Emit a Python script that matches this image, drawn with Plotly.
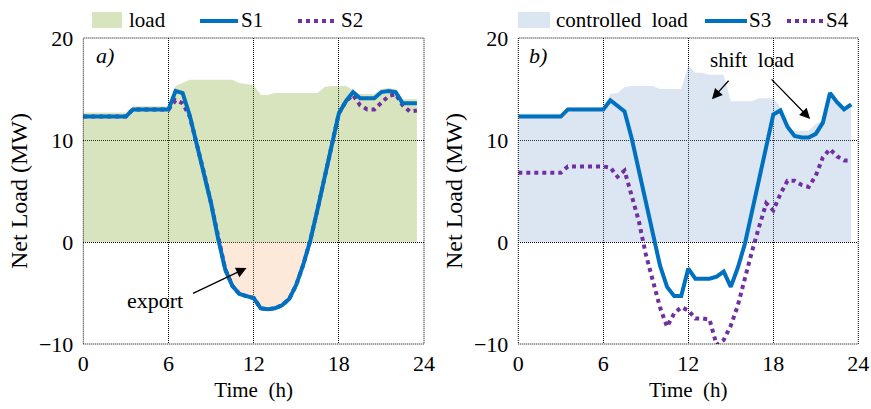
import numpy as np
import plotly.graph_objects as go

# ---------------- data ----------------
time_h = [0, 0.5, 1, 1.5, 2, 2.5, 3, 3.5, 4, 4.5, 5, 5.5, 6, 6.5, 7, 7.5,
          8, 8.5, 9, 9.5, 10, 10.5, 11, 11.5, 12, 12.5, 13, 13.5, 14, 14.5, 15, 15.5,
          16, 16.5, 17, 17.5, 18, 18.5, 19, 19.5, 20, 20.5, 21, 21.5, 22, 22.5, 23, 23.5]

load = [12.7, 12.7, 12.7, 12.7, 12.7, 12.7, 12.7, 13.3, 13.3, 13.3, 13.3, 13.3, 13.3, 15.3, 15.6, 15.9,
        15.9, 15.9, 15.9, 15.9, 15.9, 15.9, 15.6, 15.5, 15.4, 14.4, 14.4, 14.6, 14.6, 14.6, 14.6, 14.6,
        14.6, 14.6, 15.2, 15.3, 15.3, 15.3, 14.9, 14.5, 14.5, 14.5, 15.0, 15.1, 15.0, 14.0, 14.0, 14.0]

s1 = [12.3, 12.3, 12.3, 12.3, 12.3, 12.3, 12.3, 13.0, 13.0, 13.0, 13.0, 13.0, 13.0, 14.8, 14.6, 12.4,
      9.6, 6.8, 3.8, 0.3, -2.7, -4.3, -5.1, -5.3, -5.5, -6.5, -6.6, -6.5, -6.2, -5.6, -4.2, -2.2,
      0.2, 3.2, 6.2, 9.3, 12.6, 13.8, 14.7, 14.1, 14.1, 14.1, 14.7, 14.8, 14.7, 13.6, 13.6, 13.6]

s2 = [12.3, 12.3, 12.3, 12.3, 12.3, 12.3, 12.3, 13.0, 13.0, 13.0, 13.0, 13.0, 13.0, 13.9, 13.6, 12.3,
      9.6, 6.8, 3.8, 0.3, -2.7, -4.3, -5.1, -5.3, -5.5, -6.5, -6.6, -6.5, -6.2, -5.6, -4.2, -2.2,
      0.2, 3.2, 6.2, 9.3, 12.6, 13.8, 14.4, 13.4, 13.0, 13.0, 13.7, 14.3, 14.5, 13.4, 12.8, 12.9]

controlled_load = [12.6, 12.6, 12.6, 12.6, 12.6, 12.6, 12.6, 13.2, 13.2, 13.2, 13.2, 13.2, 13.2, 14.5, 14.6, 15.2,
                   15.3, 15.3, 15.3, 15.3, 15.0, 15.0, 15.0, 15.0, 17.3, 16.6, 16.6, 16.4, 16.4, 16.4, 13.8, 13.8,
                   13.8, 13.8, 14.1, 14.1, 14.1, 13.2, 11.2, 10.9, 10.9, 10.9, 11.6, 11.9, 14.6, 13.7, 13.0, 13.5]

s3 = [12.3, 12.3, 12.3, 12.3, 12.3, 12.3, 12.3, 13.0, 13.0, 13.0, 13.0, 13.0, 13.0, 13.9, 13.4, 12.8,
      10.2, 7.0, 3.8, 0.8, -2.3, -4.4, -5.3, -5.3, -2.6, -3.6, -3.6, -3.6, -3.4, -2.9, -4.4, -2.5,
      -0.15, 3.1, 6.3, 9.3, 12.5, 12.9, 11.3, 10.4, 10.25, 10.25, 10.6, 11.7, 14.6, 13.7, 13.0, 13.5]

s4 = [6.8, 6.8, 6.8, 6.8, 6.8, 6.8, 6.8, 7.4, 7.4, 7.4, 7.4, 7.4, 7.4, 7.3, 6.4, 7.0,
      4.6, 2.1, -1.2, -4.0, -6.4, -8.3, -7.0, -6.4, -6.7, -7.5, -7.5, -7.6, -10.1, -9.6, -8.2, -6.2,
      -3.4, -0.9, 1.5, 3.8, 3.1, 4.7, 6.0, 6.0, 5.6, 5.4, 6.5, 8.3, 9.1, 8.4, 8.0, 8.0]

x_ticks = [0, 6, 12, 18, 24]
y_ticks = [-10, 0, 10, 20]

# ---------------- styling ----------------
W, H = 871, 409
FONT = "Liberation Serif"
BLUE = "#0070c0"
PURPLE = "#7030a0"
GREEN_SOLID = "#d7e4bd"
PEACH_SOLID = "#fde9d9"
LBLUE_SOLID = "#dce6f2"
# translucent versions (same look over white, let the dotted grid show through)
GREEN_FILL = "rgba(122,165,35,0.3)"
PEACH_FILL = "rgba(248,182,128,0.3)"
LBLUE_FILL = "rgba(138,172,212,0.3)"


def px(xp):
    return xp / W


def py(yp):
    return 1 - yp / H


fig = go.Figure()

# left panel
fig.add_trace(go.Scatter(x=time_h, y=load, fill="tozeroy", mode="lines", line=dict(width=0),
                         fillcolor=GREEN_FILL, name="load", xaxis="x", yaxis="y", showlegend=False))
fig.add_trace(go.Scatter(x=time_h, y=np.minimum(np.array(s1), 0), fill="tozeroy", mode="lines",
                         line=dict(width=0), fillcolor=PEACH_FILL, name="export", xaxis="x", yaxis="y",
                         showlegend=False))
fig.add_trace(go.Scatter(x=time_h, y=s2, mode="lines", line=dict(color=PURPLE, width=4, dash="dot"),
                         name="S2", xaxis="x", yaxis="y", showlegend=False))
fig.add_trace(go.Scatter(x=time_h, y=s1, mode="lines", line=dict(color=BLUE, width=4),
                         name="S1", xaxis="x", yaxis="y", showlegend=False))

# right panel
fig.add_trace(go.Scatter(x=time_h, y=controlled_load, fill="tozeroy", mode="lines", line=dict(width=0),
                         fillcolor=LBLUE_FILL, name="controlled load", xaxis="x2", yaxis="y2",
                         showlegend=False))
fig.add_trace(go.Scatter(x=time_h, y=s4, mode="lines", line=dict(color=PURPLE, width=4, dash="dot"),
                         name="S4", xaxis="x2", yaxis="y2", showlegend=False))
fig.add_trace(go.Scatter(x=time_h, y=s3, mode="lines", line=dict(color=BLUE, width=4),
                         name="S3", xaxis="x2", yaxis="y2", showlegend=False))

ydom = [py(344), py(38)]
common_x = dict(range=[0, 24], tickvals=x_ticks, showgrid=True, gridcolor="black", gridwidth=1,
                griddash="1px,1px", zeroline=False, showline=False, ticks="",
                ticklabelstandoff=4, tickfont=dict(family=FONT, size=22, color="black"),
                title=dict(text="Time \u00a0(h)", font=dict(family=FONT, size=21, color="black"), standoff=7),
                fixedrange=True)
common_y = dict(range=[-10, 20], tickvals=y_ticks, showgrid=True, gridcolor="black", gridwidth=1,
                griddash="1px,1px", zeroline=False, showline=False, ticks="",
                ticklabelstandoff=9, tickfont=dict(family=FONT, size=22, color="black"),
                title=dict(text="Net Load (MW)", font=dict(family=FONT, size=24, color="black"), standoff=4),
                domain=ydom, fixedrange=True)

fig.update_layout(
    width=W, height=H,
    margin=dict(l=0, r=0, t=0, b=0, autoexpand=False),
    paper_bgcolor="white", plot_bgcolor="white",
    font=dict(family=FONT, color="black"),
    showlegend=False,
    hovermode=False,
    xaxis=dict(domain=[px(83.3), px(424)], anchor="y", automargin=False, **common_x),
    yaxis=dict(anchor="x", automargin=False, **common_y),
    xaxis2=dict(domain=[px(518.3), px(858.3)], anchor="y2", automargin=False, **common_x),
    yaxis2=dict(anchor="x2", automargin=False, **common_y),
)

shapes = []
# dotted frames
for xr, yr in (("x domain", "y domain"), ("x2 domain", "y2 domain")):
    shapes.append(dict(type="rect", xref=xr, yref=yr, x0=0, x1=1, y0=0, y1=1,
                       line=dict(color="black", width=1, dash="1px,1px"), layer="above"))

# legend keys
ly = 20
shapes += [
    dict(type="rect", xref="paper", yref="paper", x0=px(92), x1=px(122), y0=py(28), y1=py(12),
         fillcolor=GREEN_SOLID, line=dict(width=0)),
    dict(type="line", xref="paper", yref="paper", x0=px(200), x1=px(238), y0=py(ly + 1), y1=py(ly + 1),
         line=dict(color=BLUE, width=4)),
    dict(type="line", xref="paper", yref="paper", x0=px(298), x1=px(337), y0=py(ly + 1), y1=py(ly + 1),
         line=dict(color=PURPLE, width=4, dash="dot")),
    dict(type="rect", xref="paper", yref="paper", x0=px(518), x1=px(550), y0=py(28), y1=py(12),
         fillcolor=LBLUE_SOLID, line=dict(width=0)),
    dict(type="line", xref="paper", yref="paper", x0=px(705), x1=px(747), y0=py(ly + 1), y1=py(ly + 1),
         line=dict(color=BLUE, width=4)),
    dict(type="line", xref="paper", yref="paper", x0=px(787), x1=px(823), y0=py(ly + 1), y1=py(ly + 1),
         line=dict(color=PURPLE, width=4, dash="dot")),
]
fig.update_layout(shapes=shapes)

lf = dict(family=FONT, size=21, color="black")
ann = []
for xp, txt in ((127, "load"), (239, "S1"), (339, "S2"), (554, "controlled \u00a0load"), (747, "S3"), (824, "S4")):
    ann.append(dict(xref="paper", yref="paper", x=px(xp), y=py(ly), text=txt, showarrow=False,
                    xanchor="left", yanchor="middle", font=lf))

# panel labels
ann.append(dict(xref="paper", yref="paper", x=px(94), y=py(55), text="<i>a)</i>", showarrow=False,
                xanchor="left", yanchor="middle", font=dict(family=FONT, size=22, color="black")))
ann.append(dict(xref="paper", yref="paper", x=px(527), y=py(55), text="<i>b)</i>", showarrow=False,
                xanchor="left", yanchor="middle", font=dict(family=FONT, size=22, color="black")))

# export text and arrow
ann.append(dict(xref="paper", yref="paper", x=px(155), y=py(300), text="export", showarrow=False,
                xanchor="center", yanchor="middle", font=dict(family=FONT, size=22, color="black")))
ann.append(dict(xref="x", yref="y", x=11.5, y=-2.55, ax=-55, ay=26, text="", showarrow=True,
                arrowhead=2, arrowsize=1.6, arrowwidth=1.3, arrowcolor="black", standoff=0))

# shift load text and arrows
ann.append(dict(xref="paper", yref="paper", x=px(752), y=py(60), text="shift \u00a0load", showarrow=False,
                xanchor="center", yanchor="middle", font=dict(family=FONT, size=21, color="black")))
ann.append(dict(xref="x2", yref="y2", x=13.67, y=14.0, ax=18, ay=-20, text="", showarrow=True,
                arrowhead=2, arrowsize=1.6, arrowwidth=1.3, arrowcolor="black", standoff=0))
ann.append(dict(xref="x2", yref="y2", x=20.6, y=12.07, ax=-40, ay=-41, text="", showarrow=True,
                arrowhead=2, arrowsize=1.6, arrowwidth=1.3, arrowcolor="black", standoff=0))

fig.update_layout(annotations=ann)

fig.write_html("out.html", config={"displayModeBar": False, "staticPlot": False},
               post_script="document.body.style.margin='0';document.body.style.overflow='hidden';")
